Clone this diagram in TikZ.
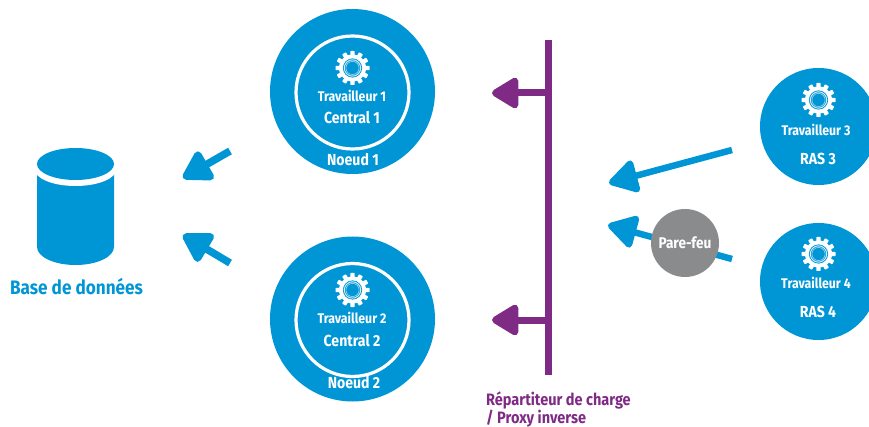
\documentclass[tikz,border=0pt]{standalone}
\usepackage{fontspec}
\setmainfont[FakeStretch=0.88]{Fira Sans}
\usetikzlibrary{arrows.meta}
\definecolor{hpblue}{HTML}{0096D6}
\definecolor{hppurple}{HTML}{7F2B85}
\definecolor{hpgrey}{HTML}{8A8B8D}
\newcommand{\gearshape}[1]{%
  \begin{scope}[shift={#1}]
    \fill[white] (0,0) circle (13.5);
    \foreach \a in {0,30,...,330}
      \fill[white,rotate=\a,rounded corners=0.6] (-2.2,-11) -- (-2.2,-15.2) -- (-2.2,-17) -- (2.2,-17) -- (2.2,-11) -- cycle;
    \fill[hpblue] (0,0) circle (9.6);
    \draw[white!85!hpblue,line width=0.9] (0,0) circle (8.2);
    \draw[white!70!hpblue,line width=0.5] (0,0) circle (6.6);
  \end{scope}}
\tikzset{
  x=1pt,y=-1pt,
  disc/.style={circle,fill=hpblue,inner sep=0,minimum size=#1},
  ring/.style={circle,draw=white,line width=3.2pt,inner sep=0,minimum size=#1},
  lab/.style={text=white,font=\bfseries,inner sep=0},
  smalllab/.style={lab,font=\fontsize{14}{15}\selectfont\bfseries},
  biglab/.style={lab,font=\fontsize{16}{17}\selectfont\bfseries},
  bluearrow/.style={hpblue,line width=7.5pt,-{Triangle[length=32pt,width=36pt,round]}},
  bluearrowthin/.style={hpblue,line width=6.5pt,-{Triangle[length=32pt,width=36pt,round]}},
  purplearrow/.style={hppurple,line width=7pt,-{Triangle[length=30pt,width=34pt,round]}},
}
\begin{document}
\begin{tikzpicture}
\useasboundingbox (0,0) rectangle (869,427);
\begin{scope}
\clip (0,0) rectangle (869,427);
\node[disc=165pt] (n1) at (352.5,91.5) {};
\node[ring=113pt] (r1) at (352.5,92.5) {};
\node[disc=165pt] (n2) at (352.5,319) {};
\node[ring=113pt] (r2) at (352.5,320) {};
\node[disc=117pt] (n3) at (818.5,126.5) {};
\node[disc=117pt] (n4) at (818.5,281.5) {};
\end{scope}
\gearshape{(352.5,68)}
\gearshape{(352.5,290)}
\gearshape{(818.5,100)}
\gearshape{(818.5,254)}
\node[smalllab] (t1) at (352,96) {Travailleur 1};
\node[biglab]   (c1) at (352,118) {Central 1};
\node[biglab]   (k1) at (353,160) {Noeud 1};
\node[smalllab] (t2) at (352,318) {Travailleur 2};
\node[biglab]   (c2) at (352,341) {Central 2};
\node[biglab]   (k2) at (354,383) {Noeud 2};
\node[smalllab] (t3) at (816,130) {Travailleur 3};
\node[biglab]   (c3) at (818,159) {RAS 3};
\node[smalllab] (t4) at (816,283) {Travailleur 4};
\node[biglab]   (c4) at (818,312) {RAS 4};
% database
\fill[hpblue] (37,164) -- (37,247) arc[start angle=180,end angle=0,x radius=38.5,y radius=18] -- (114,164) -- cycle;
\fill[white] (75.5,169) ellipse[x radius=41,y radius=17];
\fill[hpblue] (75.5,164) ellipse[x radius=38.5,y radius=16];
\node[font=\fontsize{19.5}{20}\selectfont\bfseries,text=hpblue,inner sep=0] (db) at (76.5,287) {Base de données};
% left arrows
\coordinate (a1s) at (230,151); \coordinate (a1e) at (183,178);
\coordinate (a2s) at (230,263); \coordinate (a2e) at (183,235);
\draw[bluearrow] (a1s) -- (a1e);
\draw[bluearrow] (a2s) -- (a2e);
% RAS arrows
\coordinate (a3s) at (732,150); \coordinate (a3e) at (609,183);
\coordinate (a4s) at (732,259); \coordinate (a4e) at (608,225);
\draw[bluearrowthin] (a3s) -- (a3e);
\draw[bluearrowthin] (a4s) -- (a4e);
\node[circle,fill=hpgrey,inner sep=0,minimum size=68pt] (fw) at (685,243) {};
\node[lab,font=\fontsize{15.5}{16}\selectfont\bfseries] (fwt) at (685,243) {Pare-feu};
% balancer
\coordinate (b1) at (548,40); \coordinate (b2) at (548,375);
\draw[hppurple,line width=7pt] (b1) -- (b2);
\coordinate (p1s) at (548,93); \coordinate (p1e) at (492,93);
\coordinate (p2s) at (548,320); \coordinate (p2e) at (492,320);
\draw[purplearrow] (p1s) -- (p1e);
\draw[purplearrow] (p2s) -- (p2e);
\node[font=\fontsize{16.5}{17.5}\selectfont\bfseries,text=hppurple,inner sep=0,align=left,anchor=north west] (lb) at (486,392) {Répartiteur de charge\\/ Proxy inverse};
\end{tikzpicture}
\end{document}
